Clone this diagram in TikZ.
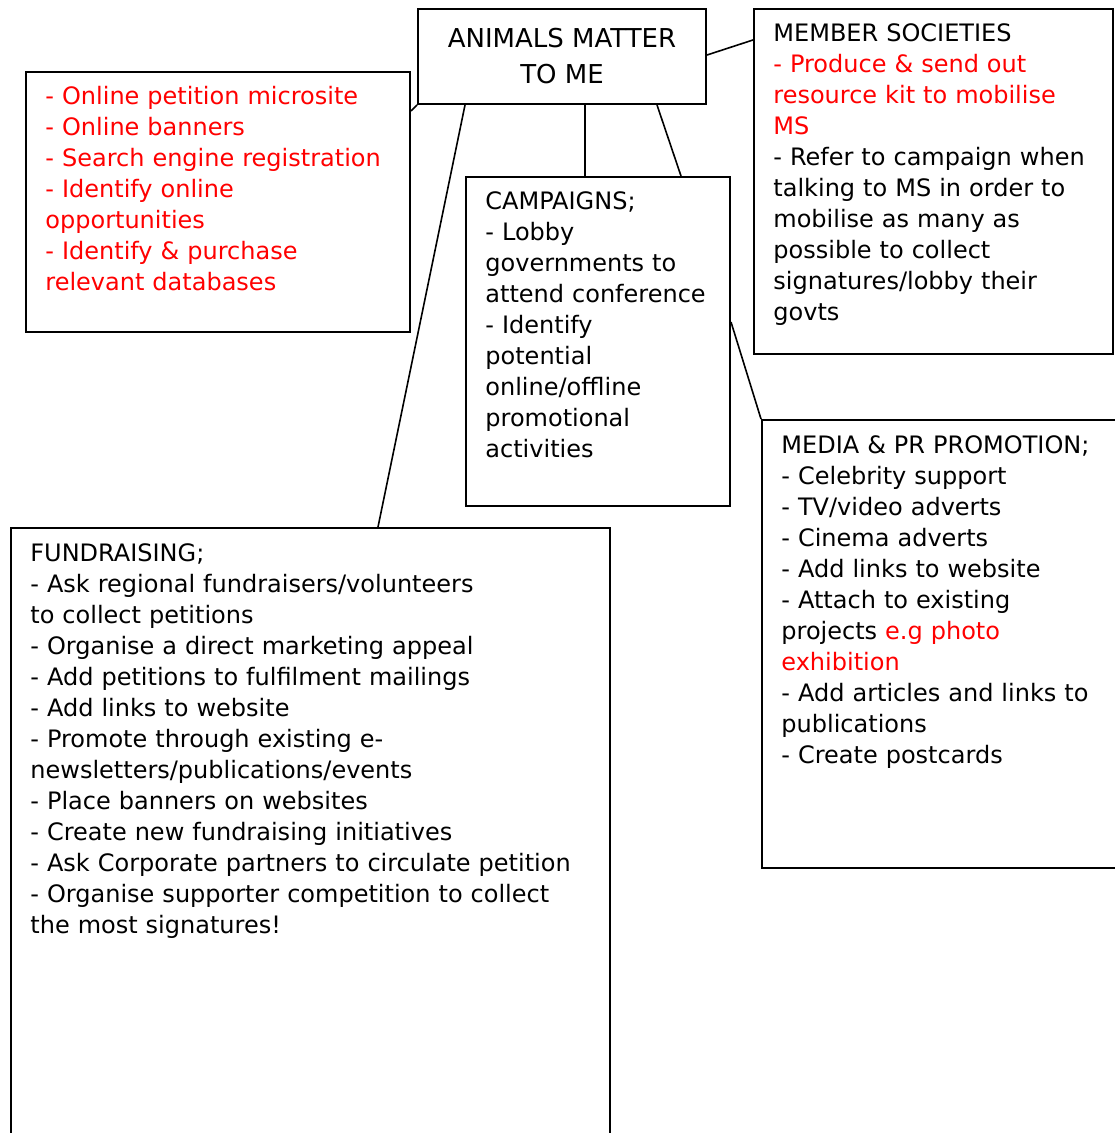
\documentclass[tikz,border=0pt]{standalone}
\usepackage{fontspec}
\setmainfont{DejaVu Sans}
\usepackage{xcolor}
\usetikzlibrary{calc,positioning}

\begin{document}
\begin{tikzpicture}[x=0.5pt,y=-0.5pt,
    box/.style={draw, line width=1pt, rectangle, inner sep=0pt, anchor=north west},
    txt/.style={anchor=base west, inner sep=0pt, align=left, font=\fontsize{12}{15.5}\selectfont},
    link/.style={line width=0.8pt}]
    \useasboundingbox (0,0) rectangle (1114,1133);

    % boxes
    \node[box, minimum width=144pt, minimum height=47.5pt] (hub) at (417,8) {};
    \node[box, minimum width=192pt, minimum height=130pt] (online) at (25,71) {};
    \node[box, minimum width=179.5pt, minimum height=172.5pt] (member) at (753,8) {};
    \node[box, minimum width=132pt, minimum height=164.5pt] (camp) at (465,176) {};
    \node[box, minimum width=180pt, minimum height=224pt] (media) at (761,419) {};
    \node[box, minimum width=299.5pt, minimum height=310pt] (fund) at (10,527) {};

    % texts
    \node[align=center, font=\fontsize{13}{18}\selectfont] (title) at (hub.center) {ANIMALS MATTER\\TO ME};
    \node[txt, text width=185pt, red] (onlinetxt) at ($(online.north west)+(20,34)$)
        {- Online petition microsite\\- Online banners\\- Search engine registration\\- Identify online\\opportunities\\- Identify \& purchase\\relevant databases};
    \node[txt, text width=170pt] (membertxt) at ($(member.north west)+(20,34)$)
        {MEMBER SOCIETIES\\\textcolor{red}{- Produce \& send out}\\\textcolor{red}{resource kit to mobilise}\\\textcolor{red}{MS}\\- Refer to campaign when\\talking to MS in order to\\mobilise as many as\\possible to collect\\signatures/lobby their\\govts};
    \node[txt, text width=125pt] (camptxt) at ($(camp.north west)+(20,34)$)
        {CAMPAIGNS;\\- Lobby\\governments to\\attend conference\\- Identify\\potential\\online/offline\\promotional\\activities};
    \node[txt, text width=170pt] (mediatxt) at ($(media.north west)+(20,34)$)
        {MEDIA \& PR PROMOTION;\\- Celebrity support\\- TV/video adverts\\- Cinema adverts\\- Add links to website\\- Attach to existing\\projects \textcolor{red}{e.g photo}\\\textcolor{red}{exhibition}\\- Add articles and links to\\publications\\- Create postcards};
    \node[txt, text width=285pt] (fundtxt) at ($(fund.north west)+(20,34)$)
        {FUNDRAISING;\\- Ask regional fundraisers/volunteers\\to collect petitions\\- Organise a direct marketing appeal\\- Add petitions to fulfilment mailings\\- Add links to website\\- Promote through existing e-\\newsletters/publications/events\\- Place banners on websites\\- Create new fundraising initiatives\\- Ask Corporate partners to circulate petition\\- Organise supporter competition to collect\\the most signatures!};

    % connectors
    \draw[link] (hub.south west) -- ($(online.north east)+(0,40)$);
    \draw[link] ($(hub.south west)+(48,0)$) -- ($(fund.north west)+(368,0)$);
    \draw[link] ($(hub.south west)+(168,0)$) -- ($(camp.north west)+(120,0)$);
    \draw[link] ($(hub.south west)+(240,0)$) -- ($(camp.north west)+(216,0)$);
    \draw[link] ($(hub.north east)+(0,47)$) -- ($(member.north west)+(0,32)$);
    \draw[link] ($(camp.north east)+(0,146)$) -- (media.north west);
\end{tikzpicture}
\end{document}
